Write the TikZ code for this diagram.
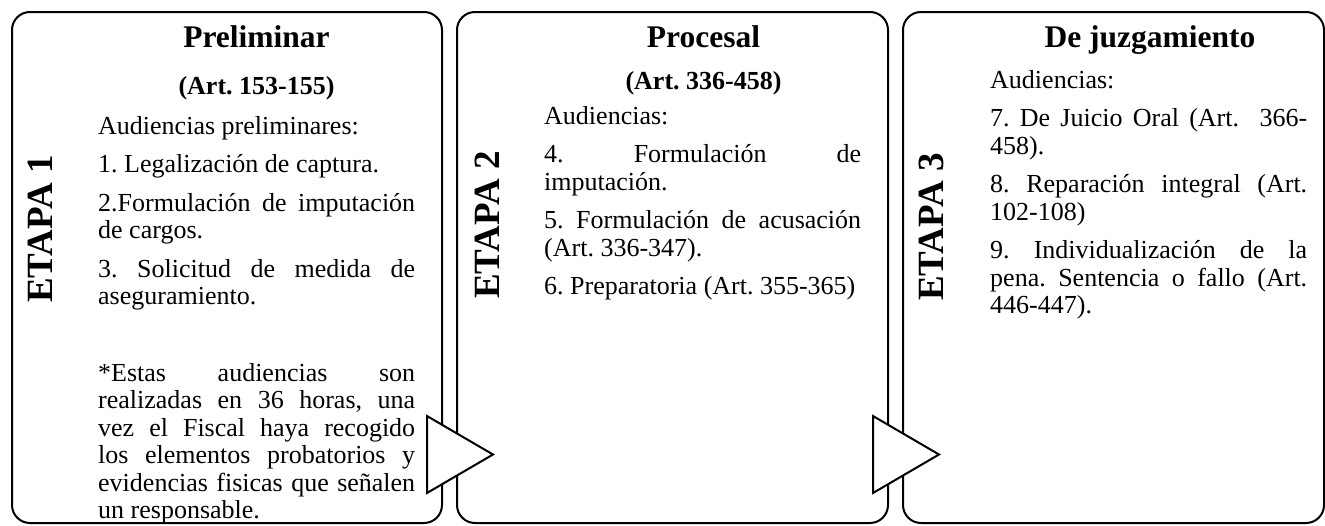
\documentclass[tikz,border=0pt]{standalone}
\usepackage{fontspec}
\setmainfont{Liberation Serif}
\frenchspacing
\newcommand{\bodyfont}{\fontsize{26}{27.5}\selectfont}
\tikzset{
    stage/.style={draw, line width=2pt, rounded corners=18pt},
    pointer/.style={draw, fill=white, line width=2pt, line join=miter},
    title/.style={anchor=base, inner sep=0pt, font=\fontsize{31.5}{36}\selectfont\bfseries},
    subtitle/.style={anchor=base, inner sep=0pt, font=\fontsize{26}{30}\selectfont\bfseries},
    etapa/.style={rotate=90, inner sep=0pt, font=\fontsize{37}{42}\selectfont\bfseries},
    body/.style={anchor=base west, inner sep=0pt, text width=317pt, align=justify, font=\bodyfont}
}

\begin{document}
\begin{tikzpicture}[x=1pt, y=-1pt]
    \useasboundingbox (0,0) rectangle (1325,525);

    % the three stages
    \draw[stage] (12,12) rectangle (442,523);
    \draw[stage] (457,12) rectangle (888,523);
    \draw[stage] (903,12) rectangle (1324,523);

    % arrows from one stage to the next
    \draw[pointer] (427,416) -- (493,454.5) -- (427,493) -- cycle;
    \draw[pointer] (873,416) -- (939,454.5) -- (873,493) -- cycle;

    % stage 1
    \node[etapa] (etapa1) at (40,229) {ETAPA 1};
    \node[title] (preliminar) at (256.5,47) {Preliminar};
    \node[subtitle] (preliminarart) at (256.5,94) {(Art. 153-155)};
    \node[body] (preliminarlist) at (98,134) {Audiencias preliminares:\\[11pt]
        1. Legalización de captura.\\[11pt]
        2.Formulación de imputación\linebreak de cargos.\\[11pt]
        3. Solicitud de medida de\linebreak aseguramiento.};
    \node[body] (preliminarnote) at (98,381) {*Estas audiencias son\linebreak
        realizadas en 36 horas, una\linebreak vez el Fiscal haya recogido\linebreak
        los elementos probatorios y\linebreak evidencias fisicas que señalen\linebreak
        un responsable.};

    % stage 2
    \node[etapa] (etapa2) at (487,225) {ETAPA 2};
    \node[title] (procesal) at (703.5,47) {Procesal};
    \node[subtitle] (procesalart) at (703.5,89) {(Art. 336-458)};
    \node[body] (procesallist) at (544,124) {Audiencias:\\[11pt]
        4. Formulación de\linebreak imputación.\\[11pt]
        5. Formulación de acusación\linebreak (Art. 336-347).\\[11pt]
        6. Preparatoria (Art. 355-365)};

    % stage 3
    \node[etapa] (etapa3) at (931,227) {ETAPA 3};
    \node[title] (juzgamiento) at (1150,47) {De juzgamiento};
    \node[body] (juzgamientolist) at (990,88) {Audiencias:\\[11pt]
        7. De Juicio Oral (Art.\ \ 366-\linebreak 458).\\[11pt]
        8. Reparación integral (Art.\linebreak 102-108)\\[11pt]
        9. Individualización de la\linebreak pena. Sentencia o fallo (Art.\linebreak 446-447).};
\end{tikzpicture}
\end{document}
